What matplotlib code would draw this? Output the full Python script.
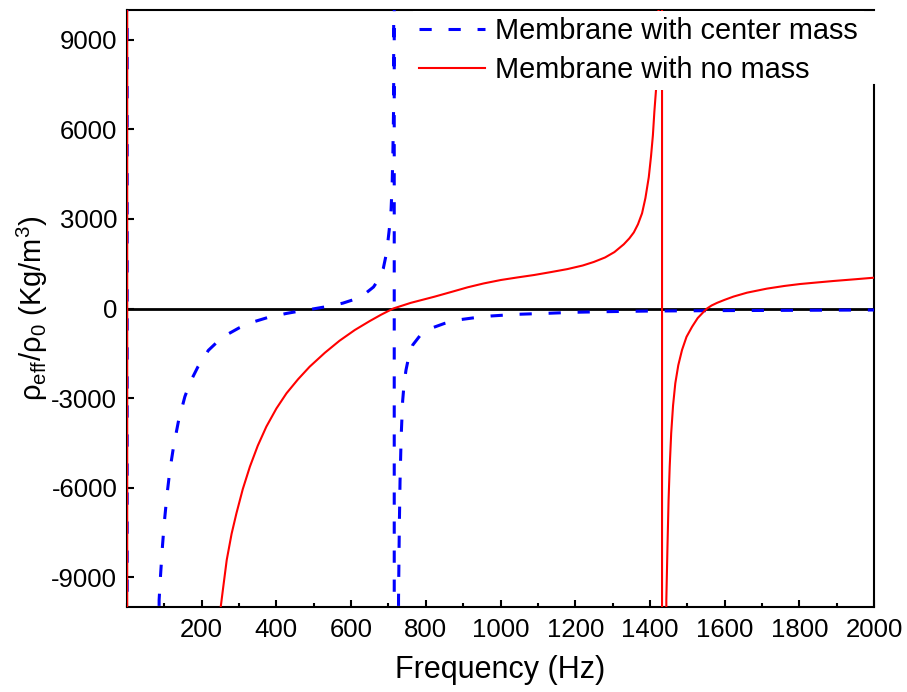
import matplotlib.pyplot as plt
from matplotlib.ticker import MultipleLocator

plt.rcParams['font.family'] = ['Liberation Sans', 'DejaVu Sans']
plt.rcParams['mathtext.default'] = 'regular'
plt.rcParams['axes.unicode_minus'] = False

# membrane with a center mass: poles at 0 Hz and ~715 Hz
freq_mass = [0, 1, 86, 90, 95, 100, 107, 115, 125, 138, 155, 170, 190, 218,
             245, 267, 300, 338, 380, 427, 465, 498, 540, 578, 610, 635, 660,
             675, 686, 693, 699, 704, 707, 710, 712, 714, 715, 716, 727, 729,
             731, 734, 738, 742, 747, 755, 765, 785, 814, 850, 885, 930, 974,
             1046, 1126, 1196, 1276, 1400, 1600, 1800, 2000]
rho_mass = [1e6, -1e6, -9765, -8900, -7950, -7150, -6250, -5400, -4600, -3760,
            -2950, -2450, -1950, -1400, -1080, -880, -650, -450, -290, -165,
            -80, -15, 75, 180, 310, 470, 720, 1000, 1330, 1750, 2295, 2850,
            3300, 4200, 5300, 6900, 1e6, -1e6, -9700, -7400, -5800, -4300,
            -3100, -2500, -2060, -1580, -1223, -900, -663, -500, -385, -310,
            -251, -194, -161, -127, -107, -85, -70, -60, -50]

# membrane with no mass: poles at 0 Hz and ~1432 Hz
freq_free = [0, 1, 251, 258, 267, 280, 293, 310, 329, 350, 373, 400, 427, 458,
             489, 530, 569, 610, 650, 680, 713, 760, 823, 870, 912, 955, 1001,
             1045, 1090, 1135, 1179, 1220, 1250, 1280, 1305, 1330, 1345, 1357,
             1368, 1379, 1388, 1397, 1403, 1408, 1412, 1417, 1420, 1423, 1432,
             1433, 1444, 1447, 1450, 1453, 1457, 1462, 1468, 1476, 1486, 1498,
             1513, 1528, 1544, 1553, 1565, 1580, 1600, 1624, 1660, 1713, 1760,
             1802, 1850, 1891, 1950, 2000]
rho_free = [1e6, -1e6, -9990, -9300, -8425, -7550, -6861, -6050, -5300, -4600,
            -3960, -3350, -2841, -2370, -1950, -1480, -1080, -720, -420, -210,
            0, 190, 395, 560, 710, 840, 955, 1040, 1122, 1220, 1320, 1440,
            1560, 1710, 1890, 2150, 2350, 2550, 2820, 3190, 3700, 4400, 5100,
            5800, 6600, 7430, 8300, 9300, 1e6, -1e6, -9765, -8000, -6415,
            -5300, -4180, -3250, -2506, -1900, -1390, -950, -610, -320, -110,
            0, 100, 190, 290, 400, 530, 665, 755, 820, 875, 921, 980, 1032]

labels = ['Membrane with center mass', 'Membrane with no mass']
x_ticks = list(range(200, 2001, 200))
y_ticks = list(range(-9000, 9001, 3000))

fig = plt.figure(figsize=(9.07, 6.92), dpi=100)
ax = fig.add_axes([127 / 907, 1 - 607 / 692, 747 / 907, 597 / 692])

ax.axhline(0, color='black', lw=2.0, zorder=2)
ax.plot(freq_mass, rho_mass, color='#0000ff', lw=2.2, ls=(0, (4, 5.5)),
        label=labels[0], zorder=3)
ax.plot(freq_free, rho_free, color='#ff0000', lw=1.5, label=labels[1],
        zorder=3)

ax.set_xlim(0, 2000)
ax.set_ylim(-10000, 10000)
ax.set_xticks(x_ticks)
ax.set_yticks(y_ticks)
ax.xaxis.set_minor_locator(MultipleLocator(100))
ax.tick_params(axis='both', which='both', direction='in', labelsize=18.5,
               width=1.5, top=False, right=False)
ax.tick_params(which='major', length=5)
ax.tick_params(which='minor', length=3)
ax.tick_params(axis='x', pad=8)
ax.tick_params(axis='y', pad=7)
for s in ax.spines.values():
    s.set_linewidth(1.5)
# the legend box sits over the top of the right frame edge
ax.spines['right'].set_bounds(-10000, 7500)

ax.set_xlabel('Frequency (Hz)', fontsize=22, labelpad=9.5)
ax.set_ylabel(r'$\rho_{eff}/\rho_0$ (Kg/m$^3$)', fontsize=21, labelpad=1)

leg = ax.legend(loc='upper right', bbox_to_anchor=(864 / 907, 1 - 11 / 692),
                bbox_transform=fig.transFigure, fontsize=20.8, frameon=True,
                fancybox=False, edgecolor='none', facecolor='white',
                framealpha=1, borderpad=0.2, borderaxespad=0,
                labelspacing=0.39, handlelength=2.3, handletextpad=0.35)
leg.set_zorder(5)

fig.savefig('out.png', dpi=100)
